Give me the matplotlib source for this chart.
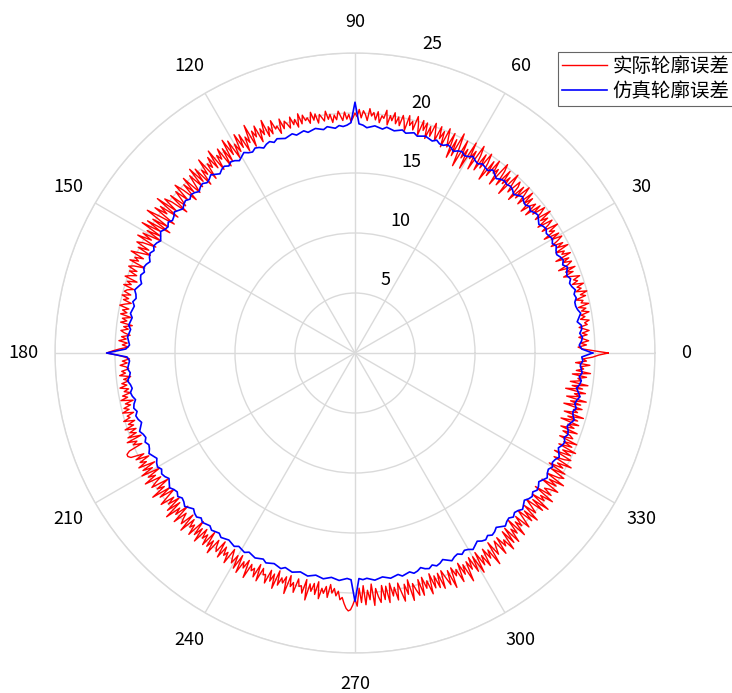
import numpy as np
import matplotlib
matplotlib.use('Agg')
import matplotlib.pyplot as plt
from matplotlib.transforms import ScaledTranslation

plt.rcParams['font.family'] = ['Noto Sans CJK SC', 'DejaVu Sans']

# simulated contour error (blue), one sample per degree
sim_deg = np.arange(0, 360, 1.0)
err_sim = [
    19.8, 18.9, 18.7, 18.9, 19.0, 18.8, 19.0, 19.0, 18.7, 18.9, 19.1, 18.9, 18.8, 18.8, 19.0, 18.9, 19.1, 18.9, 18.8, 19.0,
    18.8, 18.9, 19.1, 18.8, 19.0, 18.9, 18.7, 18.8, 19.0, 18.8, 19.0, 18.9, 18.8, 19.0, 18.9, 18.7, 18.9, 19.1, 19.0, 18.8,
    19.0, 18.8, 18.9, 19.1, 18.9, 18.7, 18.9, 19.0, 18.9, 19.0, 18.9, 18.7, 18.9, 19.1, 18.8, 18.9, 19.0, 18.8, 18.9, 19.1,
    18.9, 18.8, 19.0, 18.9, 18.7, 18.9, 19.0, 18.8, 18.8, 19.0, 18.8, 18.9, 19.0, 18.9, 18.8, 19.0, 18.9, 18.8, 19.0, 18.9,
    18.8, 18.9, 19.0, 18.8, 18.9, 19.0, 18.9, 18.8, 19.0, 19.1, 20.9, 19.2, 19.0, 18.9, 19.0, 18.8, 18.9, 19.0, 18.8, 18.9,
    19.0, 18.9, 18.8, 19.0, 18.9, 18.8, 19.0, 18.9, 18.8, 18.9, 19.0, 18.8, 19.0, 18.9, 18.7, 18.9, 19.0, 18.8, 18.9, 19.1,
    18.9, 18.7, 18.9, 19.0, 18.8, 19.0, 18.9, 18.7, 18.9, 19.1, 18.9, 18.8, 19.0, 18.9, 18.7, 18.9, 19.0, 18.8, 19.0, 18.9,
    18.7, 18.9, 19.1, 18.9, 18.8, 19.0, 18.8, 18.9, 19.1, 18.9, 18.7, 18.9, 19.0, 18.8, 19.0, 18.9, 18.7, 18.9, 19.0, 18.8,
    19.0, 18.9, 18.7, 18.9, 19.1, 18.9, 18.8, 19.0, 18.8, 18.9, 19.0, 18.8, 18.9, 19.0, 18.8, 18.9, 19.0, 18.9, 18.8, 19.1,
    20.7, 19.0, 18.8, 18.9, 19.0, 18.8, 18.9, 19.1, 18.9, 18.8, 19.0, 18.9, 18.7, 18.9, 19.0, 18.8, 19.0, 18.9, 18.7, 18.9,
    19.1, 18.9, 18.8, 19.0, 18.8, 18.9, 19.1, 18.9, 18.7, 18.9, 19.0, 18.8, 19.0, 18.9, 18.7, 18.9, 19.1, 18.9, 18.8, 19.0,
    18.8, 18.9, 19.1, 18.9, 18.7, 18.9, 19.0, 18.8, 19.0, 18.9, 18.8, 19.0, 18.9, 18.8, 19.0, 18.9, 18.8, 18.9, 19.0, 18.8,
    18.9, 19.0, 18.8, 18.9, 19.0, 18.9, 18.8, 19.0, 18.9, 18.8, 18.9, 19.0, 18.8, 18.9, 19.0, 18.9, 18.8, 18.9, 19.0, 18.9,
    18.8, 18.9, 19.0, 18.9, 18.8, 18.9, 19.0, 18.9, 18.8, 18.9, 20.7, 18.8, 18.9, 18.8, 18.9, 19.0, 18.9, 18.8, 18.9, 19.0,
    18.9, 18.8, 19.0, 18.9, 18.8, 19.0, 18.9, 18.7, 18.9, 19.0, 18.8, 19.0, 18.9, 18.7, 18.9, 19.1, 18.9, 18.8, 19.0, 18.8,
    18.9, 19.1, 18.9, 18.7, 18.9, 19.0, 18.8, 19.0, 18.9, 18.7, 18.9, 19.1, 18.9, 18.8, 19.0, 18.8, 18.9, 19.1, 18.9, 18.7,
    18.9, 19.0, 18.8, 19.0, 18.9, 18.7, 18.9, 19.1, 18.9, 18.8, 19.0, 18.8, 18.9, 19.1, 18.9, 18.7, 18.9, 19.0, 18.8, 19.0,
    18.9, 18.7, 18.9, 19.1, 18.9, 18.8, 19.0, 18.8, 18.9, 19.1, 18.9, 18.7, 18.9, 19.0, 18.8, 19.0, 18.9, 18.8, 19.0, 18.9,
]

# measured contour error (red), one sample per half degree
real_deg = np.arange(0, 360, 0.5)
err_real = [
    21.1, 20.0, 19.0, 18.6, 19.3, 18.8, 19.5, 19.1, 18.7, 19.4, 19.0, 19.6, 19.2, 18.8, 19.5, 19.3, 19.7, 19.0, 19.4, 19.1,
    19.8, 19.2, 19.6, 19.0, 19.9, 19.3, 19.5, 18.9, 19.8, 19.4, 20.0, 19.1, 19.6, 19.3, 19.9, 19.0, 19.5, 19.2, 19.8, 19.1,
    18.5, 19.4, 18.8, 19.7, 18.3, 19.2, 19.6, 18.9, 19.5, 18.4, 19.8, 19.1, 19.4, 18.7, 19.9, 19.0, 19.6, 18.6, 19.3, 19.8,
    18.9, 19.7, 18.4, 19.5, 19.1, 20.0, 18.6, 19.3, 19.8, 18.5, 19.6, 19.0, 20.1, 18.7, 19.4, 19.9, 18.8, 19.7, 18.3, 19.5,
    19.1, 18.2, 19.6, 18.8, 19.9, 18.4, 19.3, 20.0, 18.6, 19.7, 18.1, 19.4, 19.8, 18.5, 19.2, 20.1, 17.9, 19.5, 18.7, 19.9,
    18.3, 19.6, 20.2, 18.0, 19.4, 18.9, 20.0, 18.4, 19.7, 17.8, 19.3, 20.1, 18.6, 19.8, 18.2, 19.5, 20.3, 18.0, 19.6, 18.8,
    20.2, 17.7, 19.4, 18.5, 20.0, 17.6, 19.1, 20.4, 18.3, 19.7, 18.0, 20.1, 18.8, 19.5, 20.3, 18.6, 19.9, 19.2, 20.2, 18.9,
    19.6, 20.3, 19.1, 19.9, 18.8, 20.1, 19.4, 20.2, 18.9, 19.8, 20.4, 19.2, 19.9, 19.5, 20.3, 19.0, 19.7, 20.2, 19.3, 20.0,
    19.4, 20.3, 19.6, 20.0, 19.2, 20.4, 19.7, 19.9, 19.3, 20.2, 19.5, 20.1, 19.8, 20.4, 19.4, 19.9, 20.2, 19.6, 20.3, 19.7,
    20.0, 19.6, 19.3, 19.9, 19.5, 20.1, 19.4, 19.8, 20.2, 19.5, 19.9, 19.3, 20.0, 19.6, 20.3, 19.5, 19.8, 20.1, 19.4, 20.2,
    19.7, 20.4, 19.5, 20.0, 19.8, 20.3, 19.6, 20.5, 19.4, 20.1, 19.7, 20.4, 19.5, 19.9, 20.2, 19.6, 20.5, 19.3, 20.0, 19.8,
    20.6, 19.5, 20.2, 19.4, 20.9, 19.7, 20.3, 19.2, 20.7, 19.8, 20.4, 19.1, 21.1, 19.6, 20.2, 19.0, 20.6, 19.5, 20.8, 19.3,
    20.1, 18.9, 20.6, 19.4, 20.9, 19.0, 20.3, 18.7, 20.5, 19.6, 20.1, 18.8, 20.8, 19.2, 20.4, 19.5, 20.0, 18.6, 20.7, 19.3,
    19.9, 18.5, 20.3, 19.1, 20.6, 18.8, 20.2, 19.4, 18.6, 20.4, 19.0, 20.0, 18.4, 19.7, 20.5, 18.9, 20.1, 19.3, 18.7, 20.2,
    18.3, 19.8, 20.4, 19.0, 20.9, 18.6, 20.3, 19.5, 20.6, 18.5, 19.9, 21.0, 18.8, 20.2, 18.4, 20.5, 19.1, 20.8, 18.9, 20.1,
    18.7, 20.3, 19.4, 20.6, 18.8, 19.9, 20.4, 19.2, 20.1, 18.9, 19.7, 20.5, 19.3, 20.0, 19.6, 20.3, 18.9, 19.8, 20.2, 19.4,
    20.0, 19.3, 19.8, 20.2, 19.1, 19.9, 19.5, 20.1, 19.2, 19.7, 19.9, 19.3, 20.0, 19.4, 19.8, 19.1, 19.6, 20.0, 19.2, 19.7,
    19.3, 19.8, 18.9, 19.6, 19.2, 19.7, 18.7, 19.4, 19.0, 19.6, 19.3, 18.8, 19.5, 19.1, 19.7, 19.0, 19.4, 18.9, 19.6, 20.2,
    20.7, 19.8, 19.2, 18.8, 19.4, 19.0, 19.6, 19.1, 18.9, 19.5, 19.2, 19.7, 18.8, 19.4, 19.0, 19.6, 19.2, 19.8, 19.1, 19.5,
    19.0, 19.7, 19.3, 19.9, 18.9, 19.6, 19.2, 19.8, 19.4, 20.0, 19.1, 19.7, 19.5, 20.1, 19.2, 19.8, 19.4, 20.2, 19.3, 19.9,
    19.4, 20.2, 19.1, 20.4, 19.6, 20.0, 19.3, 20.5, 20.8, 20.8, 20.6, 19.5, 20.3, 19.2, 20.1, 19.6, 20.4, 19.0, 20.2, 19.4,
    20.5, 18.9, 20.1, 19.5, 20.6, 19.2, 19.8, 20.3, 18.8, 20.0, 19.4, 20.7, 19.1, 20.2, 18.9, 19.7, 20.5, 19.3, 20.0, 19.0,
    20.4, 19.2, 20.8, 19.5, 20.1, 18.9, 20.6, 19.4, 19.9, 20.3, 19.1, 20.7, 19.3, 20.0, 19.6, 20.5, 18.9, 20.2, 19.4, 20.6,
    19.2, 20.0, 19.5, 20.4, 19.0, 20.3, 19.6, 20.7, 19.3, 19.9, 20.2, 19.1, 20.5, 19.4, 20.1, 19.7, 20.6, 19.2, 19.8, 20.3,
    19.5, 20.6, 19.3, 20.8, 19.7, 20.2, 19.4, 20.9, 19.6, 20.1, 19.8, 20.5, 19.3, 20.7, 19.5, 20.0, 19.9, 20.6, 19.4, 20.3,
    19.6, 20.8, 19.2, 20.4, 19.7, 20.1, 19.5, 20.9, 19.3, 20.2, 19.8, 20.6, 19.4, 20.0, 19.9, 20.5, 19.3, 21.0, 19.6, 20.2,
    19.5, 20.4, 19.3, 20.7, 19.8, 20.2, 19.6, 20.5, 19.4, 20.1, 19.7, 20.3, 19.9, 20.6, 20.4, 20.9, 21.3, 21.5, 21.4, 21.0,
    20.5, 21.1, 19.6, 20.8, 19.4, 21.0, 19.8, 20.6, 19.3, 21.1, 19.7, 20.4, 20.9, 19.5, 20.7, 19.6, 21.0, 19.4, 20.5, 19.8,
    20.9, 19.5, 20.3, 21.1, 19.7, 20.6, 19.4, 21.2, 19.8, 20.4, 20.9, 19.6, 21.0, 19.5, 20.5, 19.9, 21.1, 19.4, 20.7, 19.7,
    20.8, 19.6, 21.0, 19.5, 20.2, 20.9, 19.7, 21.3, 19.6, 20.4, 19.9, 21.1, 19.5, 20.6, 19.8, 21.4, 19.7, 20.5, 19.5, 20.9,
    19.6, 21.2, 19.4, 20.7, 19.9, 21.0, 19.5, 20.5, 19.8, 21.3, 19.3, 20.6, 20.0, 19.5, 20.9, 19.4, 20.4, 19.9, 21.0, 19.3,
    20.6, 19.2, 20.8, 19.6, 20.2, 18.9, 20.7, 19.4, 20.0, 19.1, 20.5, 19.7, 18.9, 20.3, 19.3, 20.6, 19.0, 20.1, 19.5, 18.8,
    20.4, 19.2, 20.7, 18.9, 20.0, 19.5, 20.6, 18.7, 20.2, 19.4, 19.8, 20.5, 18.8, 20.1, 19.3, 20.6, 18.9, 19.9, 20.3, 19.0,
    20.2, 18.6, 19.8, 19.2, 20.4, 18.7, 19.6, 20.1, 18.5, 19.9, 19.1, 20.2, 18.6, 19.7, 18.9, 20.0, 18.4, 19.5, 19.2, 18.5,
    19.7, 18.2, 19.3, 18.7, 19.6, 18.0, 19.4, 18.5, 19.8, 18.1, 19.2, 18.8, 19.5, 17.9, 19.3, 18.4, 19.7, 18.0, 19.1, 18.6,
    19.5, 17.8, 19.2, 18.3, 19.6, 18.1, 19.0, 18.7, 19.4, 18.2, 19.7, 18.5, 19.1, 18.8, 19.6, 18.4, 19.3, 19.0, 19.8, 20.3,
]

labels = ['实际轮廓误差', '仿真轮廓误差']
r_ticks = [5, 10, 15, 20, 25]
theta_ticks = np.arange(0, 360, 30)

# close the contours
th_real = np.deg2rad(np.append(real_deg, 360))
r_real = np.append(err_real, err_real[0])
th_sim = np.deg2rad(np.append(sim_deg, 360))
r_sim = np.append(err_sim, err_sim[0])

fig = plt.figure(figsize=(7.32, 6.93), dpi=100)
ax = fig.add_axes([55 / 732, 40 / 693, 600 / 732, 600 / 693], projection='polar')

ax.plot(th_real, r_real, color='red', lw=1.0, label=labels[0])
ax.plot(th_sim, r_sim, color='blue', lw=1.2, label=labels[1])

ax.set_ylim(0, 25)
ax.set_yticks(r_ticks)
ax.set_thetagrids(theta_ticks, [str(t) for t in theta_ticks])
ax.set_rlabel_position(80)
ax.grid(True, color='#dadada', lw=1.0)
ax.spines['polar'].set_color('#dadada')
ax.spines['polar'].set_linewidth(1.0)
ax.tick_params(axis='x', labelsize=13, pad=12)
ax.tick_params(axis='y', labelsize=13)

off = ScaledTranslation(0.15, 0.05, fig.dpi_scale_trans)
for lab in ax.get_yticklabels():
    lab.set_transform(lab.get_transform() + off)

leg = fig.legend(loc='upper left', bbox_to_anchor=(558 / 732, 1 - 52 / 693),
                 fontsize=14, frameon=True, fancybox=False, framealpha=1,
                 edgecolor='#666666', handlelength=2.3, handletextpad=0.3,
                 borderpad=0.2, labelspacing=0.2, borderaxespad=0)
leg.get_frame().set_linewidth(0.8)

fig.savefig('out.png', dpi=100)
